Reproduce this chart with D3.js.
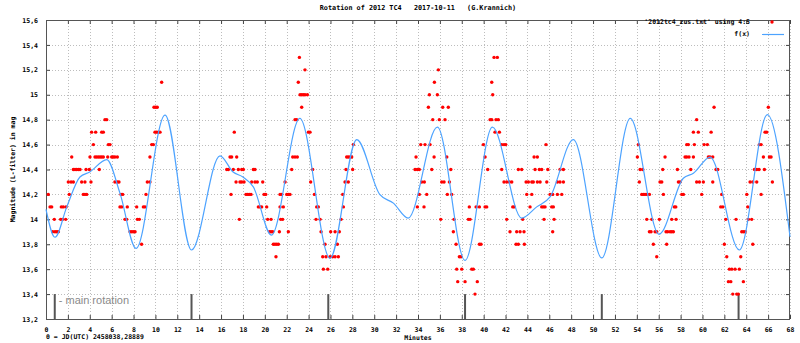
<!DOCTYPE html>
<html><head><meta charset="utf-8">
<script src="https://cdn.jsdelivr.net/npm/d3@7"></script>
<style>
body{margin:0;background:#fff}
svg{display:block}
text{font-family:"DejaVu Sans Mono",monospace;font-weight:bold;font-size:6.5px;fill:#000;white-space:pre}
</style>
</head><body><svg id="c" width="800" height="343"></svg>
<script>
const title = "Rotation of 2012 TC4   2017-10-11   (G.Krannich)";
const xLabel = "Minutes";
const yLabel = "Magnitude (L-filter) in mag";
const jdNote = "0 = JD(UTC) 2458038,28889";
const rotationLabel = "- main rotation";
const legendData = "'2012tc4_zus.txt' using 4:5";
const legendFit = "f(x)";
const xTicks = d3.range(0, 69, 2);
const yTicks = [13.2,13.4,13.6,13.8,14.0,14.2,14.4,14.6,14.8,15.0,15.2,15.4,15.6];
const rotationMarks = [0.8,13.3,25.8,38.3,50.8,63.3];

// fitted curve f(x): minutes and magnitudes
const fitMinutes = [0,0.82,1.9,3.1,4.0,5.55,6.76,8.23,10.88,13.3,15.9,17.1,18.0,18.95,20.6,23.2,25.96,28.4,30.5,31.75,33.1,35.77,38.3,40.8,43.48,44.85,46.07,48.2,50.8,53.4,56.03,58.25,59.17,60.7,63.37,65.93,68];
const fitMag = [14.08,13.856,14.10,14.34,14.38,14.48,14.21,13.767,14.837,13.754,14.51,14.38,14.34,14.26,13.874,14.81,13.687,14.64,14.2,14.13,14.01,14.74,13.67,14.74,14.01,14.10,14.18,14.64,13.69,14.81,13.88,14.33,14.37,14.50,13.754,14.84,13.86];

// observations [minute, magnitude]
const obsA = [[0.21,14.2],[0.37,14.1],[0.52,14.1],[0.76,14.0],[0.61,13.9],[0.82,13.9],[0.98,13.9],[1.13,13.9],
[1.34,14.0],[1.52,14.0],[1.80,14.0],[1.40,14.1],[1.58,14.1],[1.83,14.1],[2.13,14.2],[2.04,14.3],[2.29,14.3],[2.35,14.5],
[2.50,14.4],[2.65,14.4],[2.80,14.4],[2.96,14.4],[3.11,14.4],[2.50,14.3],[3.26,14.3],[3.56,14.3],
[3.41,14.2],[3.56,14.2],[3.72,14.2],[3.66,14.4],[3.96,14.4],[4.02,14.5],[4.11,14.3],[4.17,14.7],[4.33,14.6],[4.54,14.7],
[4.48,14.5],[4.63,14.5],[4.79,14.5],[4.94,14.5],[5.09,14.5],[5.24,14.5],[4.87,14.4],[5.09,14.7],[5.24,14.7],[5.39,14.8],[5.55,14.8],
[5.70,14.6],[5.85,14.6],[5.64,14.5],[6.00,14.5],[6.15,14.5],[6.30,14.5],[6.52,14.5],[6.30,14.3],[6.52,14.3],[6.67,14.3],
[6.86,14.2],[7.01,14.2],[6.76,14.1],[6.92,14.1],[7.43,14.1],[7.22,14.0],[7.38,14.0],[7.68,13.9],[7.84,13.9],[7.99,13.9],[8.14,13.9],
[8.29,14.1],[8.35,14.0],[8.53,14.0],[8.74,13.8],[8.90,14.1],[9.05,14.1],[9.14,14.2],[9.26,14.3],[9.50,14.3],[9.50,14.5],[9.66,14.6],[9.81,14.6],
[9.96,14.7],[10.11,14.7],[10.27,14.7],[10.42,14.7],[9.87,14.9],[10.03,14.9],[10.17,14.9],[10.57,15.1]];
const obsB = [[17.21,14.7],[16.82,14.5],[16.97,14.5],[17.43,14.5],
[16.52,14.4],[16.67,14.4],[17.12,14.4],[17.58,14.4],[17.89,14.4],[18.04,14.4],[18.95,14.4],[19.10,14.4],
[17.37,14.3],[17.73,14.3],[17.89,14.3],[18.10,14.3],[18.80,14.3],[19.10,14.3],[19.31,14.3],[19.81,14.3],
[16.91,14.2],[18.28,14.2],[18.43,14.2],[18.58,14.2],[18.74,14.2],[19.93,14.2],[20.08,14.2],
[19.41,14.1],[19.56,14.1],[19.71,14.1],[20.17,14.1],[17.67,14.0],[20.26,14.0],[20.57,14.0],
[20.42,13.9],[20.57,13.9],[20.72,13.9],[21.33,13.9],[20.78,13.8],[20.93,13.8],[21.09,13.8],[21.24,13.8],[21.02,13.7],
[21.39,14.1],[21.69,14.1],[21.39,14.2],[21.54,14.2],[22.00,14.2],[22.15,14.2],[22.30,14.2],[21.45,14.0],[21.63,14.0],[21.85,14.3],[22.15,13.9],
[22.46,14.4],[22.55,14.5],[22.76,14.5],[22.97,14.5],[22.76,14.8],[22.91,14.8],[23.37,14.9],
[23.22,15.0],[23.37,15.0],[23.52,15.0],[23.67,15.0],[23.89,15.0],[23.06,15.1],[23.67,15.2],[23.16,15.3],
[23.98,14.7],[24.13,14.7],[24.37,14.4],[24.19,14.3],[24.53,14.2],[24.74,14.1],[24.89,14.1],[24.68,14.0],[25.05,14.0],[25.14,13.9],[25.50,13.8],
[25.29,13.7],[25.59,13.7],[25.96,13.7],[26.20,13.7],[26.42,13.7],[26.72,13.7],[25.35,13.6],[25.75,13.6],
[26.02,13.9],[26.42,13.9],[26.81,13.9],[26.63,13.8],[26.97,14.0],[27.18,14.1],[27.12,14.2],[27.33,14.3],[27.63,14.3],
[27.42,14.4],[28.03,14.4],[27.48,14.5],[27.63,14.5],[27.79,14.5],[27.94,14.5],[28.09,14.6]];
const obsC = [[35.86,15.2],[35.50,15.1],[35.04,15.0],[35.77,15.0],[34.95,14.9],[36.26,14.9],[36.77,14.9],[35.35,14.8],[35.95,14.8],[36.47,14.8],
[34.25,14.6],[34.64,14.6],[35.10,14.6],[33.82,14.5],[35.47,14.5],[36.63,14.5],
[33.73,14.4],[33.94,14.4],[34.12,14.4],[35.26,14.4],[37.00,14.4],
[34.34,14.3],[34.58,14.3],[36.17,14.3],[36.38,14.3],[36.87,14.3],
[34.12,14.2],[34.80,14.2],[36.68,14.2],[37.08,14.2],[33.94,14.1],[34.55,14.1],
[36.08,14.0],[37.29,14.0],[37.23,13.9],[37.48,13.8],[37.78,13.7],[37.93,13.7],
[37.54,13.6],[38.00,13.6],[38.91,13.6],[39.06,13.6],[37.63,13.5],[38.30,13.5],[39.42,13.5],[39.21,13.4],
[38.69,14.1],[39.31,14.1],[39.61,14.1],[40.13,14.1],[40.28,14.1],[38.60,14.0],[38.76,14.0],[39.61,13.8],[39.76,13.8],
[39.97,14.6],[40.13,14.5],[40.37,14.4],[40.74,15.1],[40.83,15.0],[40.95,15.3],[41.25,15.3],
[40.59,14.8],[40.74,14.8],[41.13,14.8],[41.34,14.8],[41.04,14.7],[41.44,14.7],
[41.65,14.6],[41.86,14.6],[42.02,14.6],[41.65,14.4],[41.86,14.3],[42.11,14.3],[42.35,14.3],[42.57,14.3],
[42.66,14.1],[42.80,14.1],[42.11,14.0],[42.41,13.9],[43.02,13.9],[43.33,13.9],[43.69,13.9],[42.96,13.8],[43.17,13.8],[43.72,13.8],
[43.57,14.0],[43.17,14.4],[43.48,14.4],
[43.88,14.3],[44.09,14.3],[44.40,14.3],[44.54,14.3],[44.91,14.3],[45.16,14.3],[45.77,14.3],
[43.94,14.2],[44.40,14.2],[44.24,14.1],[44.61,14.5],[44.91,14.5],[44.70,14.4],[45.09,14.4],[45.31,14.4],[45.86,14.4],
[45.31,14.1],[45.46,14.1],[45.61,14.1],[45.52,14.0],[45.70,14.6],[46.07,14.2],[46.31,14.2],[46.22,14.1],[46.37,14.1],[46.44,14.0],[46.31,13.9],
[46.74,14.3],[46.98,14.3],[47.29,14.3],[46.74,14.2],[47.14,14.2],[47.29,14.4],[46.98,14.4]];
const obsD = [[54.14,14.6],[54.05,14.5],[54.30,14.4],[54.54,14.4],[54.23,14.3],
[54.45,14.2],[54.60,14.2],[54.75,14.2],[54.91,14.2],[55.15,14.2],[54.91,14.0],[55.37,14.0],
[55.15,13.9],[55.30,13.9],[55.67,13.9],[55.82,13.9],[55.51,13.8],[55.82,13.7],[56.06,14.0],
[56.12,14.3],[56.28,14.3],[56.37,14.4],[56.58,14.5],[56.43,14.2],
[56.67,13.9],[56.82,13.9],[57.04,13.9],[57.19,13.9],[57.34,13.9],[56.73,13.8],[57.19,14.0],[57.59,14.0],[57.43,14.1],[57.56,14.1],
[57.71,14.4],[57.80,14.3],[57.95,14.3],[58.11,14.2],[58.26,14.2],
[58.41,14.5],[58.56,14.5],[58.77,14.5],[58.56,14.6],[58.71,14.6],[59.26,14.6],[59.17,14.7],[59.62,14.7],[59.47,14.8],
[58.93,14.4],[59.17,14.5],[59.47,14.3],[59.72,14.3],[60.08,14.3],[59.93,14.2],
[60.15,14.6],[60.45,14.6],[60.54,14.5],[60.69,14.5],[60.94,14.5],[60.79,14.7],[61.06,14.9],[60.94,14.3],
[61.24,14.4],[61.40,14.4],[61.67,14.1],[61.86,14.1],[61.76,14.2],[62.00,13.8],[62.13,14.0],[62.22,13.7],
[62.46,13.6],[62.68,13.6],[62.98,13.6],[63.37,13.6],[62.37,13.5],[62.59,13.5],[62.77,13.4],[63.13,13.4],[63.28,13.4],
[63.07,14.0],[63.50,13.7],[63.74,13.5],[63.59,13.9],[63.74,13.9],[63.90,13.9],
[64.05,14.2],[64.14,14.1],[64.20,14.0],[64.50,14.0],[64.60,13.8],[64.35,14.3],[64.60,14.3],[64.96,14.3],
[64.75,14.4],[64.96,14.4],[65.17,14.4],[65.66,14.4],[65.36,14.2],[65.20,14.6],[65.36,14.6],[65.57,14.5],
[65.72,14.7],[65.87,14.7],[66.02,14.9],[66.12,14.5],[66.27,14.5],[66.39,14.3]];

const obs = obsA.concat(obsB, obsC, obsD);
const fit = fitMinutes.map((m, i) => [m, fitMag[i]]);

const L = 46, R = 790, T = 20, B = 319;
const svg = d3.select("#c");
const x = d3.scaleLinear().domain([0, 68]).range([L, R]);
const y = d3.scaleLinear().domain([13.2, 15.6]).range([B, T]);
const fmt = v => String(+v.toFixed(1)).replace(".", ",");

// grid
const g = svg.append("g");
g.selectAll(".gx").data(xTicks).join("line")
  .attr("x1", d => Math.round(x(d)) + 0.5).attr("x2", d => Math.round(x(d)) + 0.5)
  .attr("y1", T).attr("y2", B)
  .attr("stroke", "#bdbdbd").attr("stroke-width", 1).attr("stroke-dasharray", "1,2");
g.selectAll(".gy").data(yTicks).join("line")
  .attr("y1", d => Math.round(y(d)) + 0.5).attr("y2", d => Math.round(y(d)) + 0.5)
  .attr("x1", L).attr("x2", R)
  .attr("stroke", "#bdbdbd").attr("stroke-width", 1).attr("stroke-dasharray", "1,2");

// axes with inward ticks on all four sides
const axB = d3.axisBottom(x).tickValues(xTicks).tickSize(-4).tickPadding(8).tickFormat(d3.format("d"));
const axT = d3.axisTop(x).tickValues(xTicks).tickSize(-4).tickFormat("");
const axLft = d3.axisLeft(y).tickValues(yTicks).tickSize(-4).tickPadding(8).tickFormat(fmt);
const axRt = d3.axisRight(y).tickValues(yTicks).tickSize(-4).tickFormat("");
function styleAx(sel){
  sel.select(".domain").remove();
  sel.selectAll(".tick line").attr("stroke", "#444");
  sel.selectAll("text").attr("font-family", null).attr("font-size", null).attr("fill", "#000");
}
svg.append("g").attr("transform", `translate(0,${B})`).call(axB).call(styleAx);
svg.append("g").attr("transform", `translate(0,${T})`).call(axT).call(styleAx);
svg.append("g").attr("transform", `translate(${L},0)`).call(axLft).call(styleAx);
svg.append("g").attr("transform", `translate(${R},0)`).call(axRt).call(styleAx);

// border
svg.append("rect").attr("x", L + 0.5).attr("y", T + 0.5).attr("width", R - L - 1).attr("height", B - T)
  .attr("fill", "none").attr("stroke", "#555").attr("stroke-width", 1);

// main rotation marks
svg.append("g").selectAll("line").data(rotationMarks).join("line")
  .attr("x1", d => x(d)).attr("x2", d => x(d))
  .attr("y1", y(13.4)).attr("y2", y(13.2))
  .attr("stroke", "#555").attr("stroke-width", 2);
svg.append("text").attr("x", x(rotationMarks[0]) + 4).attr("y", y(13.4) + 10)
  .style("font-family", "'Liberation Sans', Arial, sans-serif").style("font-weight", "normal")
  .style("font-size", "11px").style("fill", "#8a8a8a").text(rotationLabel);

// observations
svg.append("g").selectAll("circle").data(obs).join("circle")
  .attr("cx", d => x(d[0])).attr("cy", d => y(d[1])).attr("r", 1.7).attr("fill", "#ff0000");

// fit curve
svg.append("path").datum(fit)
  .attr("d", d3.line().x(d => x(d[0])).y(d => y(d[1])).curve(d3.curveMonotoneX))
  .attr("fill", "none").attr("stroke", "#4da3ff").attr("stroke-width", 1.2);

// legend
svg.append("text").attr("x", 750).attr("y", 24).attr("text-anchor", "end").text(legendData);
svg.append("circle").attr("cx", 772).attr("cy", 22).attr("r", 1.7).attr("fill", "#ff0000");
svg.append("text").attr("x", 750).attr("y", 36).attr("text-anchor", "end").text(legendFit);
svg.append("line").attr("x1", 762).attr("x2", 784).attr("y1", 34.5).attr("y2", 34.5)
  .attr("stroke", "#4da3ff").attr("stroke-width", 1.2);

// titles and labels
svg.append("text").attr("x", (L + R) / 2).attr("y", 10).attr("text-anchor", "middle")
  .style("font-size", "6.8px").text(title);
svg.append("text").attr("x", (L + R) / 2).attr("y", 340).attr("text-anchor", "middle").text(xLabel);
svg.append("text").attr("x", L).attr("y", 339).text(jdNote);
svg.append("text").attr("transform", `translate(15,${(T + B) / 2}) rotate(-90)`)
  .attr("text-anchor", "middle").text(yLabel);
</script>
</body></html>
